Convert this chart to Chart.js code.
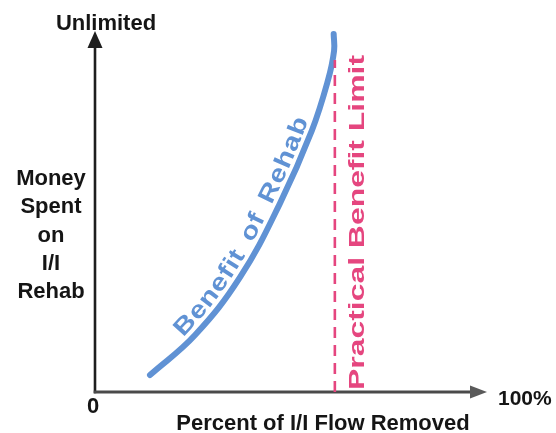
<!DOCTYPE html>
<html><head><meta charset="utf-8">
<script src="https://cdn.jsdelivr.net/npm/chart.js@4/dist/chart.umd.min.js"></script>
<style>html,body{margin:0;padding:0;background:#fff}#wrap{width:556px;height:433px;position:relative}</style>
</head><body><div id="wrap"><canvas id="c"></canvas></div>
<script>
// ---- data ----
const curveX = [14.1, 25.6, 37.2, 47.4, 55.6, 59.7, 61.3, 61.2];
const curveY = [4.7, 15.7, 31.8, 52.2, 72.4, 86.2, 94.5, 99.2];
const limitX = [61.5, 61.5];
const limitY = [0, 92];
const curveLabel = 'Benefit of Rehab';
const limitLabel = 'Practical Benefit Limit';
const xTickLabels = ['0', '100%'];
const yTickLabels = ['Unlimited'];
const xTitle = 'Percent of I/I Flow Removed';
const yTitleLines = ['Money', 'Spent', 'on', 'I/I', 'Rehab'];

const FONT = '"Liberation Sans", Arial, Helvetica, sans-serif';
const BLUE = '#6092d4';
const PINK = '#e5467f';

const toPts = (xs, ys) => xs.map((v, i) => ({x: v, y: ys[i]}));

const deco = {
  id: 'deco',
  beforeDatasetsDraw(chart) {
    const ctx = chart.ctx, xs = chart.scales.x, ys = chart.scales.y;
    const x0 = xs.getPixelForValue(0), y0 = ys.getPixelForValue(0);
    const xEnd = xs.getPixelForValue(100) + 2, yTop = ys.getPixelForValue(100);
    ctx.save();
    ctx.strokeStyle = '#1e1e1e'; ctx.fillStyle = '#1e1e1e'; ctx.lineWidth = 2.6;
    ctx.beginPath(); ctx.moveTo(x0, y0 + 1.3); ctx.lineTo(x0, yTop + 14); ctx.stroke();
    ctx.beginPath(); ctx.moveTo(x0, yTop); ctx.lineTo(x0 - 7.5, yTop + 17); ctx.lineTo(x0 + 7.5, yTop + 17); ctx.closePath(); ctx.fill();
    ctx.strokeStyle = '#4a4a4a'; ctx.fillStyle = '#5a5a5a'; ctx.lineWidth = 2.8;
    ctx.beginPath(); ctx.moveTo(x0 - 1.3, y0); ctx.lineTo(xEnd - 14, y0); ctx.stroke();
    ctx.beginPath(); ctx.moveTo(xEnd, y0); ctx.lineTo(xEnd - 17, y0 - 6.5); ctx.lineTo(xEnd - 17, y0 + 6.5); ctx.closePath(); ctx.fill();
    ctx.restore();
  },
  afterDatasetsDraw(chart) {
    const ctx = chart.ctx, xs = chart.scales.x, ys = chart.scales.y;
    const x0 = xs.getPixelForValue(0), y0 = ys.getPixelForValue(0);
    const xEnd = xs.getPixelForValue(100) + 2, yTop = ys.getPixelForValue(100);
    ctx.save();
    ctx.fillStyle = '#151515';
    ctx.textBaseline = 'alphabetic';
    ctx.font = 'bold 22px ' + FONT;
    ctx.textAlign = 'center';
    ctx.fillText(yTickLabels[0], x0 + 11, yTop - 1);
    ctx.fillText(xTickLabels[0], x0 - 2, y0 + 21);
    ctx.font = 'bold 21px ' + FONT;
    ctx.textAlign = 'left';
    ctx.fillText(xTickLabels[1], xEnd + 11, y0 + 13);
    ctx.font = 'bold 22px ' + FONT;
    ctx.textAlign = 'center';
    ctx.fillText(xTitle, 323, y0 + 38);
    yTitleLines.forEach((t, i) => ctx.fillText(t, 51, 185 + i * 28.3));
    // practical benefit limit text
    const lx = xs.getPixelForValue(limitX[0]);
    ctx.save();
    ctx.fillStyle = PINK;
    ctx.font = 'bold 22px ' + FONT;
    ctx.textAlign = 'left';
    ctx.translate(lx + 29, y0 - 2);
    ctx.rotate(-Math.PI / 2);
    ctx.scale(1.45, 1);
    ctx.fillText(limitLabel, 0, 0);
    ctx.restore();
    // curve text along path
    const el = chart.getDatasetMeta(1).data;
    const poly = [];
    for (let i = 0; i < el.length - 1; i++) {
      const a = el[i], b = el[i + 1];
      const c1x = a.cp2x ?? a.x, c1y = a.cp2y ?? a.y, c2x = b.cp1x ?? b.x, c2y = b.cp1y ?? b.y;
      for (let k = 0; k < 40; k++) {
        const t = k / 40, u = 1 - t;
        poly.push({
          x: u*u*u*a.x + 3*u*u*t*c1x + 3*u*t*t*c2x + t*t*t*b.x,
          y: u*u*u*a.y + 3*u*u*t*c1y + 3*u*t*t*c2y + t*t*t*b.y
        });
      }
    }
    poly.push({x: el[el.length - 1].x, y: el[el.length - 1].y});
    const cum = [0];
    for (let i = 1; i < poly.length; i++) cum.push(cum[i - 1] + Math.hypot(poly[i].x - poly[i - 1].x, poly[i].y - poly[i - 1].y));
    const at = (s) => {
      let i = 1;
      while (i < cum.length - 1 && cum[i] < s) i++;
      const p = poly[i - 1], q = poly[i];
      const f = (s - cum[i - 1]) / ((cum[i] - cum[i - 1]) || 1);
      return {x: p.x + (q.x - p.x) * f, y: p.y + (q.y - p.y) * f, a: Math.atan2(q.y - p.y, q.x - p.x)};
    };
    ctx.fillStyle = BLUE;
    ctx.font = 'bold 24px ' + FONT;
    ctx.textAlign = 'center';
    const sx = 1.2, sp = 1.2, d = 7;
    let s = 50;
    for (const ch of curveLabel) {
      const w = ctx.measureText(ch).width * sx + sp + (ch === ' ' ? 4 : 0);
      const P = at(s + w / 2);
      const px = P.x + d * Math.sin(P.a), py = P.y - d * Math.cos(P.a);
      ctx.save();
      ctx.translate(px, py);
      ctx.rotate(P.a);
      ctx.scale(sx, 1);
      ctx.fillText(ch, 0, 0);
      ctx.restore();
      s += w;
    }
    ctx.restore();
  }
};

new Chart(document.getElementById('c'), {
  type: 'scatter',
  data: {
    datasets: [
      {
        label: limitLabel,
        data: toPts(limitX, limitY),
        showLine: true,
        borderColor: PINK,
        borderWidth: 2.6,
        borderDash: [11, 7],
        pointRadius: 0,
        clip: false
      },
      {
        label: curveLabel,
        data: toPts(curveX, curveY),
        showLine: true,
        borderColor: BLUE,
        borderWidth: 6,
        borderCapStyle: 'round',
        tension: 0.4,
        pointRadius: 0,
        clip: false
      }
    ]
  },
  options: {
    responsive: true,
    maintainAspectRatio: false,
    animation: false,
    layout: {padding: {left: 95, right: 71, top: 31, bottom: 41}},
    plugins: {legend: {display: false}, tooltip: {enabled: false}},
    scales: {
      x: {type: 'linear', min: 0, max: 100, display: false},
      y: {type: 'linear', min: 0, max: 100, display: false}
    }
  },
  plugins: [deco]
});
</script>
</body></html>
